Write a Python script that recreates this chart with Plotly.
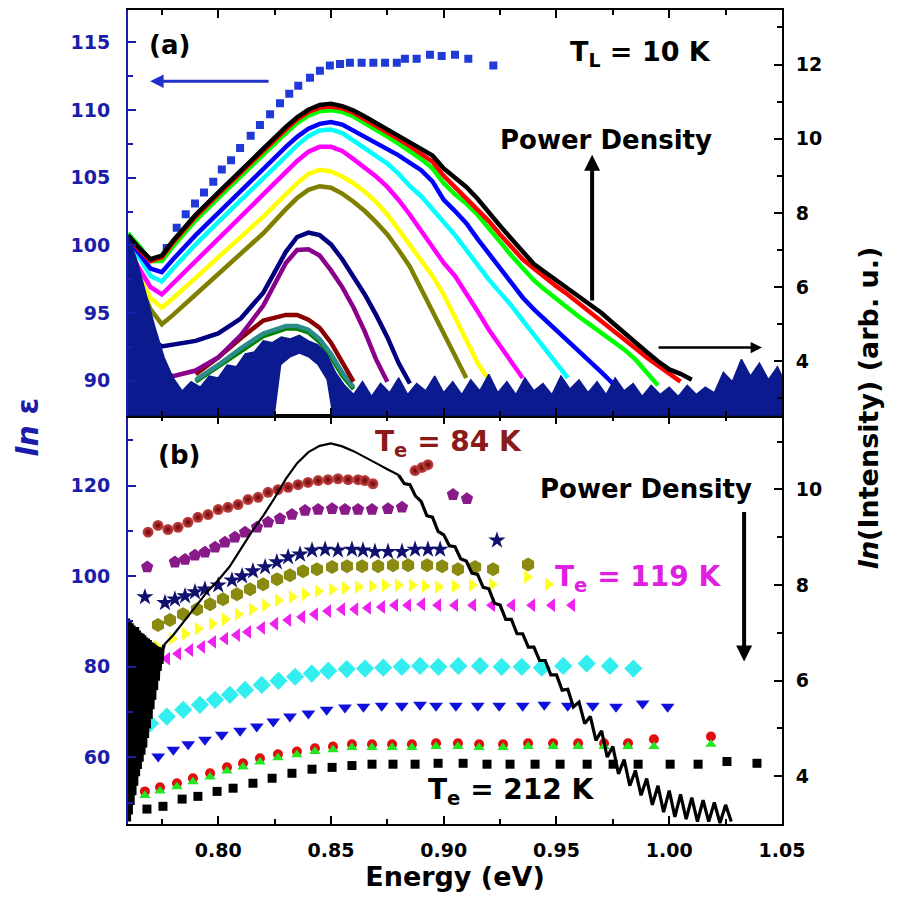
import plotly.graph_objects as go

# ---------------- top panel (a): PL spectra, right axis ln(Intensity) ----------------
PL_E = [0.760, 0.765, 0.770, 0.775, 0.780, 0.790, 0.800, 0.810, 0.820, 0.830, 0.835, 0.840,
        0.845, 0.850, 0.855, 0.860, 0.865, 0.870, 0.875, 0.880, 0.885, 0.890, 0.895, 0.900,
        0.905, 0.910, 0.915, 0.920, 0.925, 0.930, 0.935, 0.940, 0.945, 0.950, 0.955, 0.960,
        0.965, 0.970, 0.975, 0.980, 0.985, 0.990, 0.995, 1.000, 1.005, 1.010]
N = None
PL_BLACK = [7.40, 7.05, 6.75, 6.85, 7.25, 7.95, 8.55, 9.15, 9.72, 10.32, 10.58, 10.78, 10.91, 10.94,
            10.88, 10.76, 10.60, 10.43, 10.25, 10.07, 9.90, 9.72, 9.55, 9.20, 8.95, 8.70, 8.38, 8.00,
            7.65, 7.30, 6.95, 6.62, 6.40, 6.18, 5.94, 5.72, 5.52, 5.30, 5.03, 4.76, 4.49, 4.25, 4.00,
            3.78, 3.66, 3.50]
PL_RED = [7.35, 7.00, 6.70, 6.80, 7.20, 7.90, 8.50, 9.10, 9.67, 10.25, 10.52, 10.72, 10.84, 10.87,
          10.82, 10.70, 10.53, 10.35, 10.17, 9.99, 9.80, 9.60, 9.38, 9.00, 8.70, 8.42, 8.10, 7.78,
          7.42, 7.07, 6.75, 6.50, 6.25, 6.02, 5.80, 5.56, 5.33, 5.10, 4.85, 4.60, 4.35, 4.10, 3.88,
          3.65, 3.45, N]
PL_GREEN = [7.45, 7.10, 6.70, 6.70, 7.10, 7.80, 8.40, 9.00, 9.57, 10.15, 10.42, 10.62, 10.74, 10.77,
            10.72, 10.60, 10.43, 10.25, 10.06, 9.87, 9.67, 9.45, 9.20, 8.80, 8.50, 8.25, 7.95, 7.60,
            7.22, 6.85, 6.50, 6.18, 5.92, 5.67, 5.44, 5.20, 4.98, 4.76, 4.55, 4.32, 4.05, 3.70, 3.35,
            N, N, N]
PL_BLUE = [7.30, 6.90, 6.50, 6.40, 6.75, 7.40, 8.00, 8.60, 9.20, 9.78, 10.05, 10.27, 10.40, 10.45,
           10.38, 10.22, 10.05, 9.88, 9.72, 9.55, 9.35, 9.15, 8.85, 8.35, 8.05, 7.72, 7.30, 6.90,
           6.52, 6.10, 5.72, 5.40, 5.12, 4.85, 4.58, 4.30, 4.02, 3.70, 3.40, N, N, N, N, N, N, N]
PL_CYAN = [7.20, 6.80, 6.30, 6.15, 6.50, 7.15, 7.75, 8.35, 8.95, 9.55, 9.82, 10.07, 10.22, 10.25,
           10.15, 9.95, 9.75, 9.55, 9.33, 9.05, 8.72, 8.45, 8.10, 7.75, 7.40, 7.00, 6.60, 6.20,
           5.85, 5.50, 5.10, 4.72, 4.35, 3.95, 3.55, N, N, N, N, N, N, N, N, N, N, N]
PL_MAGENTA = [7.00, 6.50, 6.00, 5.80, 6.10, 6.70, 7.30, 7.90, 8.50, 9.10, 9.40, 9.65, 9.78, 9.78,
              9.67, 9.45, 9.22, 8.98, 8.70, 8.35, 7.95, 7.50, 7.05, 6.65, 6.30, 5.85, 5.35, 4.85,
              4.40, 3.95, 3.55, N, N, N, N, N, N, N, N, N, N, N, N, N, N, N]
PL_YELLOW = [6.90, 6.30, 5.70, 5.45, 5.70, 6.25, 6.80, 7.35, 7.90, 8.50, 8.80, 9.05, 9.16, 9.12,
             8.98, 8.80, 8.57, 8.30, 7.95, 7.55, 7.15, 6.75, 6.30, 5.80, 5.20, 4.55, 3.95, 3.50,
             N, N, N, N, N, N, N, N, N, N, N, N, N, N, N, N, N, N]
PL_OLIVE = [6.80, 6.10, 5.40, 5.00, 5.25, 5.80, 6.35, 6.90, 7.45, 8.10, 8.40, 8.62, 8.72, 8.68,
            8.52, 8.30, 8.05, 7.75, 7.42, 7.00, 6.55, 5.95, 5.35, 4.70, 4.10, 3.55,
            N, N, N, N, N, N, N, N, N, N, N, N, N, N, N, N, N, N, N, N]
PL_NAVY = [6.50, 5.50, 4.60, 4.40, 4.45, 4.55, 4.75, 5.15, 5.85, 6.95, 7.35, 7.47, 7.40, 7.15,
           6.75, 6.30, 5.80, 5.25, 4.65, 3.95, 3.40,
           N, N, N, N, N, N, N, N, N, N, N, N, N, N, N, N, N, N, N, N, N, N, N, N, N]
PL_PURPLE = [6.20, 5.00, 4.00, 3.70, 3.60, 3.75, 4.10, 4.70, 5.50, 6.65, 7.00, 7.02, 6.85, 6.45,
             6.00, 5.45, 4.80, 4.05, 3.45,
             N, N, N, N, N, N, N, N, N, N, N, N, N, N, N, N, N, N, N, N, N, N, N, N, N, N, N, N]
PL_WINE = [N, N, N, N, N, 3.65, 4.10, 4.62, 5.10, 5.25, 5.25, 5.12, 4.90, 4.50, 3.95, 3.45,
           N, N, N, N, N, N, N, N, N, N, N, N, N, N, N, N, N, N, N, N, N, N, N, N, N, N, N, N, N, N]
PL_TEAL = [N, N, N, N, N, 3.50, 3.90, 4.35, 4.75, 4.95, 4.95, 4.85, 4.60, 4.20, 3.70, 3.30,
           N, N, N, N, N, N, N, N, N, N, N, N, N, N, N, N, N, N, N, N, N, N, N, N, N, N, N, N, N, N]
PL_DGREEN = [N, N, N, N, N, 3.45, 3.85, 4.28, 4.68, 4.88, 4.88, 4.78, 4.52, 4.12, 3.62, 3.25,
             N, N, N, N, N, N, N, N, N, N, N, N, N, N, N, N, N, N, N, N, N, N, N, N, N, N, N, N, N, N]

# noise floor of the weakest spectrum (upper and lower edge of the navy band)
FLOOR_E = [0.760, 0.764, 0.768, 0.772, 0.776, 0.780, 0.784, 0.788, 0.792, 0.796,
           0.800, 0.804, 0.808, 0.812, 0.816, 0.820, 0.824, 0.828, 0.832, 0.836,
           0.840, 0.844, 0.848, 0.852, 0.856, 0.860, 0.864, 0.868, 0.872, 0.876,
           0.880, 0.884, 0.888, 0.892, 0.896, 0.900, 0.904, 0.908, 0.912, 0.916,
           0.920, 0.924, 0.928, 0.932, 0.936, 0.940, 0.944, 0.948, 0.952, 0.956,
           0.960, 0.964, 0.968, 0.972, 0.976, 0.980, 0.984, 0.988, 0.992, 0.996,
           1.000, 1.004, 1.008, 1.012, 1.016, 1.020, 1.024, 1.028, 1.032, 1.036,
           1.040, 1.044, 1.048, 1.050]
FLOOR_HI = [7.40, 6.70, 5.80, 4.90, 4.10, 3.55, 3.20, 3.45, 3.30, 3.60,
            3.55, 3.90, 3.85, 4.20, 4.25, 4.55, 4.50, 4.65, 4.60, 4.70,
            4.55, 4.45, 4.20, 3.70, 3.35, 3.10, 3.45, 3.05, 3.40, 3.15,
            3.55, 3.10, 3.40, 3.20, 3.60, 3.15, 3.45, 3.10, 3.50, 3.20,
            3.65, 3.15, 3.45, 3.10, 3.55, 3.20, 3.40, 3.10, 3.60, 3.25,
            3.50, 3.15, 3.45, 3.10, 3.55, 3.20, 3.40, 3.05, 3.35, 3.10,
            3.30, 3.05, 3.35, 3.10, 3.30, 3.15, 3.70, 3.45, 4.05, 3.60,
            3.95, 3.50, 3.85, 3.60]
FLOOR_LO = [2.0, 2.0, 2.0, 2.0, 2.0, 2.0, 2.0, 2.0, 2.0, 2.0,
            2.0, 2.0, 2.0, 2.0, 2.0, 2.0, 2.0, 3.90, 4.10, 4.20,
            4.10, 3.90, 3.50, 2.0, 2.0, 2.0, 2.0, 2.0, 2.0, 2.0,
            2.0, 2.0, 2.0, 2.0, 2.0, 2.0, 2.0, 2.0, 2.0, 2.0,
            2.0, 2.0, 2.0, 2.0, 2.0, 2.0, 2.0, 2.0, 2.0, 2.0,
            2.0, 2.0, 2.0, 2.0, 2.0, 2.0, 2.0, 2.0, 2.0, 2.0,
            2.0, 2.0, 2.0, 2.0, 2.0, 2.0, 2.0, 2.0, 2.0, 2.0,
            2.0, 2.0, 2.0, 2.0]

# ln(epsilon) at T_L = 10 K (blue squares, left axis)
EPS_E = [0.7772, 0.7816, 0.7856, 0.7897, 0.7937, 0.7978, 0.8016, 0.8057, 0.8097, 0.8144, 0.8185,
         0.8230, 0.8274, 0.8315, 0.8355, 0.8407, 0.8451, 0.8495, 0.8540, 0.8584, 0.8636, 0.8688,
         0.8740, 0.8792, 0.8828, 0.8880, 0.8939, 0.8991, 0.9050, 0.9109, 0.9220]
EPS_V = [99.8, 101.3, 102.3, 103.1, 103.9, 104.7, 105.6, 106.3, 107.2, 108.1, 108.9,
         109.7, 110.5, 111.2, 111.8, 112.4, 112.9, 113.3, 113.4, 113.5, 113.5, 113.5,
         113.5, 113.5, 113.8, 113.8, 114.1, 114.0, 114.1, 113.8, 113.3]

# ---------------- bottom panel (b): ln(epsilon) series, left axis ----------------
WINE_E = [0.7689, 0.7733, 0.7777, 0.7822, 0.7866, 0.7910, 0.7955, 0.8000, 0.8043, 0.8088, 0.8132,
          0.8177, 0.8221, 0.8265, 0.8310, 0.8354, 0.8398, 0.8443, 0.8487, 0.8531, 0.8576, 0.8620,
          0.8650, 0.8686, 0.8873, 0.8904, 0.8930]
WINE_V = [109.7, 111.2, 110.3, 110.8, 111.9, 113.0, 113.6, 114.7, 115.2, 115.8, 116.9,
          117.4, 118.5, 119.1, 119.6, 120.2, 120.7, 121.1, 121.3, 121.5, 121.3, 121.3,
          121.1, 120.4, 123.3, 124.0, 124.6]
PURPLE_E = [0.7685, 0.7808, 0.7853, 0.7897, 0.7941, 0.7986, 0.8030, 0.8074, 0.8119, 0.8172, 0.8221,
            0.8274, 0.8327, 0.8385, 0.8443, 0.8505, 0.8562, 0.8620, 0.8682, 0.8753, 0.8815, 0.9041,
            0.9103]
PURPLE_V = [102.0, 103.1, 103.7, 104.6, 105.3, 106.4, 107.5, 108.6, 109.7, 110.8, 111.9,
            112.7, 113.6, 114.5, 114.7, 114.9, 114.7, 114.7, 114.7, 114.9, 115.2, 118.0,
            117.1]
STAR_E = [0.7675, 0.7764, 0.7808, 0.7853, 0.7897, 0.7941, 0.8000, 0.8061, 0.8106, 0.8154, 0.8208,
          0.8260, 0.8310, 0.8363, 0.8416, 0.8474, 0.8531, 0.8593, 0.8642, 0.8695, 0.8753, 0.8815,
          0.8873, 0.8930, 0.8984, 0.9236]
STAR_V = [95.4, 94.1, 94.9, 95.6, 96.5, 97.1, 98.0, 99.1, 100.0, 101.1, 102.0,
          103.1, 104.2, 104.8, 105.7, 105.9, 105.7, 105.9, 105.7, 105.4, 105.4, 105.4,
          105.9, 105.9, 105.9, 107.9]
OLIVE_E = [0.7733, 0.7786, 0.7844, 0.7906, 0.7964, 0.8021, 0.8083, 0.8141, 0.8199, 0.8261, 0.8318,
           0.8376, 0.8438, 0.8505, 0.8571, 0.8638, 0.8709, 0.8775, 0.8842, 0.8926, 0.8993, 0.9063,
           0.9139, 0.9219, 0.9374]
OLIVE_V = [89.2, 90.3, 91.6, 92.7, 93.8, 94.9, 96.0, 97.1, 98.2, 99.3, 100.2,
           101.1, 101.5, 102.0, 102.2, 102.2, 102.2, 102.4, 102.4, 102.4, 102.2, 101.5,
           102.0, 101.5, 102.6]
YELLOW_E = [0.7729, 0.7795, 0.7853, 0.7910, 0.7973, 0.8030, 0.8088, 0.8150, 0.8208, 0.8265, 0.8327,
            0.8385, 0.8443, 0.8505, 0.8562, 0.8620, 0.8682, 0.8740, 0.8797, 0.8859, 0.8917, 0.8975,
            0.9050, 0.9126, 0.9214, 0.9370, 0.9463]
YELLOW_V = [84.4, 86.2, 87.3, 88.4, 89.5, 90.5, 91.6, 92.7, 93.6, 94.7, 95.4,
            96.0, 96.7, 97.1, 97.4, 97.6, 97.8, 98.0, 98.0, 98.0, 97.8, 97.6,
            97.8, 98.0, 98.2, 99.8, 98.2]
MAGENTA_E = [0.7773, 0.7822, 0.7875, 0.7928, 0.7977, 0.8030, 0.8083, 0.8132, 0.8194, 0.8252,
             0.8310, 0.8372, 0.8429, 0.8487, 0.8549, 0.8607, 0.8664, 0.8726, 0.8784, 0.8842,
             0.8904, 0.8975, 0.9050, 0.9130, 0.9214, 0.9303, 0.9392, 0.9480, 0.9569]
MAGENTA_V = [81.8, 82.9, 83.7, 84.4, 85.5, 86.2, 87.0, 87.7, 88.6, 89.5,
             90.3, 91.0, 91.6, 92.3, 92.7, 92.7, 93.0, 93.2, 93.6, 93.6,
             93.8, 93.6, 93.6, 93.6, 93.6, 93.6, 93.6, 93.6, 93.6]
CYAN_E = [0.7698, 0.7772, 0.7845, 0.7919, 0.7986, 0.8052, 0.8119, 0.8193, 0.8267, 0.8341, 0.8415,
          0.8488, 0.8570, 0.8651, 0.8732, 0.8814, 0.8895, 0.8976, 0.9065, 0.9161, 0.9257, 0.9346,
          0.9435, 0.9530, 0.9634, 0.9737, 0.9841]
CYAN_V = [67.5, 69.0, 70.5, 71.6, 72.7, 73.8, 74.9, 76.0, 76.9, 77.8, 78.5,
          79.1, 79.5, 79.6, 79.8, 80.0, 80.2, 80.0, 80.2, 80.2, 80.0, 80.0,
          79.8, 80.2, 80.7, 80.2, 79.6]
BLUE_E = [0.7638, 0.7734, 0.7801, 0.7867, 0.7941, 0.8016, 0.8097, 0.8171, 0.8244, 0.8318, 0.8400,
          0.8481, 0.8562, 0.8644, 0.8725, 0.8814, 0.8895, 0.8966, 0.9054, 0.9151, 0.9246, 0.9350,
          0.9446, 0.9550, 0.9661, 0.9764, 0.9882, 0.9993]
BLUE_V = [59.1, 60.2, 61.7, 62.9, 63.9, 65.0, 65.9, 66.8, 67.9, 69.0, 69.7,
          70.5, 71.0, 71.2, 71.4, 71.4, 71.6, 71.4, 71.4, 71.4, 71.4, 71.4,
          71.6, 71.4, 71.4, 71.2, 71.9, 71.2]
RED_E = [0.7675, 0.7742, 0.7817, 0.7888, 0.7964, 0.8039, 0.8110, 0.8185, 0.8265, 0.8349, 0.8429,
         0.8509, 0.8593, 0.8682, 0.8771, 0.8859, 0.8966, 0.9063, 0.9157, 0.9263, 0.9374, 0.9485,
         0.9596, 0.9711, 0.9817, 0.9932, 1.0185]
RED_V = [52.5, 53.4, 54.3, 55.4, 56.5, 57.8, 58.7, 59.8, 60.7, 61.3, 62.0,
         62.4, 62.9, 62.9, 62.9, 62.9, 63.1, 63.1, 62.9, 62.9, 63.1, 63.1,
         63.1, 63.1, 63.1, 64.0, 64.6]
GREEN_V = [51.6, 52.6, 53.5, 54.6, 55.7, 57.0, 57.9, 59.0, 59.9, 60.6, 61.3,
           61.7, 62.2, 62.2, 62.2, 62.2, 62.4, 62.4, 62.2, 62.2, 62.4, 62.4,
           62.4, 62.4, 62.4, 62.4, 62.9]
SQ_E = [0.7684, 0.7755, 0.7840, 0.7910, 0.7995, 0.8066, 0.8154, 0.8239, 0.8327, 0.8416, 0.8505,
        0.8593, 0.8682, 0.8775, 0.8873, 0.8975, 0.9086, 0.9192, 0.9294, 0.9405, 0.9516, 0.9636,
        0.9751, 0.9862, 1.0004, 1.0128, 1.0256, 1.0389]
SQ_V = [48.6, 49.2, 50.8, 51.4, 52.5, 53.2, 54.3, 55.4, 56.5, 57.4, 57.8,
        58.2, 58.5, 58.5, 58.5, 58.7, 58.7, 58.5, 58.5, 58.5, 58.5, 58.5,
        58.5, 58.5, 58.5, 58.5, 59.1, 58.7]

# highest-power PL spectrum shown in panel (b) (right axis)
SPEC_EDGE_E = [0.7602, 0.7606, 0.7610, 0.7614, 0.7618, 0.7622, 0.7626, 0.7630, 0.7634, 0.7638,
               0.7642, 0.7646, 0.7650, 0.7654, 0.7658, 0.7662, 0.7666, 0.7670, 0.7674, 0.7678,
               0.7682, 0.7686, 0.7690, 0.7694, 0.7698, 0.7702, 0.7706, 0.7710, 0.7714, 0.7718,
               0.7722, 0.7726, 0.7730, 0.7734, 0.7738, 0.7742, 0.7746, 0.7750, 0.7754, 0.7760]
SPEC_EDGE_R = [7.30, 3.05, 7.25, 3.20, 7.20, 3.40, 7.15, 3.60, 7.10, 3.80,
               7.12, 4.00, 7.05, 4.15, 7.00, 4.30, 6.98, 4.45, 6.95, 4.60,
               6.90, 4.80, 6.88, 5.00, 6.85, 5.20, 6.80, 5.40, 6.78, 5.60,
               6.75, 5.80, 6.72, 6.00, 6.70, 6.20, 6.68, 6.35, 6.65, 6.75]
SPEC_MID_E = [0.7760, 0.780, 0.785, 0.790, 0.795, 0.800, 0.805, 0.810, 0.815, 0.820, 0.825,
              0.830, 0.835, 0.840, 0.845, 0.850, 0.855, 0.860, 0.865, 0.870, 0.875, 0.8800]
SPEC_MID_R = [6.75, 6.95, 7.25, 7.55, 7.85, 8.10, 8.38, 8.75, 9.12, 9.45, 9.82,
              10.22, 10.55, 10.78, 10.91, 10.96, 10.90, 10.80, 10.68, 10.55, 10.42, 10.30]
SPEC_TAIL_E = [0.8800, 0.8825, 0.8850, 0.8875, 0.8900, 0.8925, 0.8950, 0.8975, 0.9000, 0.9025,
               0.9050, 0.9075, 0.9100, 0.9125, 0.9150, 0.9175, 0.9200, 0.9225, 0.9250, 0.9275,
               0.9300, 0.9325, 0.9350, 0.9375, 0.9400, 0.9425, 0.9450, 0.9475, 0.9500, 0.9525,
               0.9550, 0.9575, 0.9600, 0.9625, 0.9650, 0.9675, 0.9700, 0.9725, 0.9750, 0.9775,
               0.9800, 0.9825, 0.9850, 0.9875, 0.9900, 0.9925, 0.9950, 0.9975, 1.0000, 1.0025,
               1.0050, 1.0075, 1.0100, 1.0125, 1.0150, 1.0175, 1.0200, 1.0225, 1.0250, 1.0275]
SPEC_TAIL_R = [10.30, 10.12, 10.10, 9.86, 9.75, 9.45, 9.42, 9.12, 9.05, 8.82,
               8.80, 8.55, 8.50, 8.25, 8.22, 7.95, 7.92, 7.62, 7.58, 7.28,
               7.28, 6.98, 6.98, 6.70, 6.70, 6.42, 6.42, 6.12, 6.12, 5.80,
               5.82, 5.45, 5.55, 5.10, 5.25, 4.75, 4.95, 4.40, 4.62, 4.05,
               4.35, 3.80, 4.12, 3.60, 3.95, 3.40, 3.80, 3.25, 3.70, 3.15,
               3.62, 3.10, 3.55, 3.05, 3.50, 3.05, 3.45, 3.02, 3.40, 3.05]

X_TICKS = [0.80, 0.85, 0.90, 0.95, 1.00, 1.05]
X_TICKTEXT = ["0.80", "0.85", "0.90", "0.95", "1.00", "1.05"]
X_MINOR = [0.775, 0.825, 0.875, 0.925, 0.975, 1.025]

# ---------------- figure ----------------
FONT = "DejaVu Sans"
AXBLUE = "#1c1caa"
fig = go.Figure()

spectra = [
    (PL_DGREEN, "#008000"), (PL_TEAL, "#2e8b8b"), (PL_WINE, "#8b0000"), (PL_PURPLE, "#8b008b"),
    (PL_NAVY, "#000080"), (PL_OLIVE, "#808000"), (PL_YELLOW, "#ffff00"), (PL_MAGENTA, "#ff00ff"),
    (PL_CYAN, "#00ffff"), (PL_BLUE, "#0000ff"), (PL_GREEN, "#00ff00"), (PL_RED, "#ff0000"),
    (PL_BLACK, "#000000"),
]
for vals, col in spectra:
    fig.add_trace(go.Scatter(x=PL_E, y=vals, mode="lines", xaxis="x2", yaxis="y4",
                             line=dict(color=col, width=4.5), connectgaps=False, hoverinfo="skip"))

fig.add_trace(go.Scatter(x=FLOOR_E, y=FLOOR_LO, mode="lines", xaxis="x2", yaxis="y4",
                         line=dict(color="rgba(0,0,0,0)", width=0), hoverinfo="skip"))
fig.add_trace(go.Scatter(x=FLOOR_E, y=FLOOR_HI, mode="lines", xaxis="x2", yaxis="y4",
                         fill="tonexty", fillcolor="#0b1a8f",
                         line=dict(color="#0b1a8f", width=1.5), hoverinfo="skip"))

fig.add_trace(go.Scatter(x=EPS_E, y=EPS_V, mode="markers", xaxis="x2", yaxis="y2",
                         marker=dict(symbol="square", size=8, color="#1f3ad6")))

# bottom panel markers
def mk(x, y, symbol, size, color, **extra):
    fig.add_trace(go.Scatter(x=x, y=y, mode="markers", xaxis="x", yaxis="y",
                             marker=dict(symbol=symbol, size=size, color=color, line=dict(width=0), **extra)))

mk(SQ_E, SQ_V, "square", 9, "#000000")
mk(RED_E, RED_V, "circle", 10, "#e01010")
mk(RED_E, GREEN_V, "triangle-up", 10, "#22e622")
mk(BLUE_E, BLUE_V, "triangle-down", 12, "#1010dd")
mk(CYAN_E, CYAN_V, "diamond", 14, "#33eeee")
mk(MAGENTA_E, MAGENTA_V, "triangle-left", 12, "#ee22ee")
mk(YELLOW_E, YELLOW_V, "triangle-right", 12, "#ffff22")
mk(OLIVE_E, OLIVE_V, "hexagon", 14, "#8a8a10")
mk(STAR_E, STAR_V, "star", 13, "#10106e")
mk(PURPLE_E, PURPLE_V, "pentagon", 13, "#8a1a8a")
mk(WINE_E, WINE_V, "circle", 11, "#c84a4a", gradient=dict(type="radial", color="#6e0000"))

fig.add_trace(go.Scatter(x=SPEC_EDGE_E, y=SPEC_EDGE_R, mode="lines", xaxis="x", yaxis="y3",
                         line=dict(color="black", width=3.5), hoverinfo="skip"))
fig.add_trace(go.Scatter(x=SPEC_MID_E, y=SPEC_MID_R, mode="lines", xaxis="x", yaxis="y3",
                         line=dict(color="black", width=2.2), hoverinfo="skip"))
fig.add_trace(go.Scatter(x=SPEC_TAIL_E, y=SPEC_TAIL_R, mode="lines", xaxis="x", yaxis="y3",
                         line=dict(color="black", width=3.2), hoverinfo="skip"))

# ---------------- axes ----------------
tickfont = dict(family=FONT, size=19, color="black", weight="bold")
xcommon = dict(range=[0.76, 1.05], showline=True, linecolor="black", linewidth=2, mirror="ticks",
               ticks="inside", ticklen=8, tickwidth=2, tickcolor="black",
               tickvals=X_TICKS, ticktext=X_TICKTEXT, showgrid=False, zeroline=False,
               minor=dict(ticks="inside", ticklen=5, tickwidth=2, tickcolor="black", tickvals=X_MINOR))

fig.update_layout(
    width=892, height=893,
    margin=dict(l=120, r=118, t=0, b=77),
    plot_bgcolor="white", paper_bgcolor="white",
    showlegend=False,
    xaxis=dict(**xcommon, anchor="y", domain=[0, 1], tickfont=tickfont, ticklabelstandoff=8,
               title=dict(text="Energy (eV)", standoff=6,
                          font=dict(family=FONT, size=27, color="black", weight="bold"))),
    xaxis2=dict(**xcommon, anchor="y2", matches="x", showticklabels=False),
    yaxis=dict(domain=[0, 0.5015], anchor="x", range=[45.3, 135.4], showline=True, linecolor=AXBLUE,
               linewidth=2, ticks="inside", ticklen=8, tickwidth=2, tickcolor=AXBLUE,
               tickvals=[60, 80, 100, 120], showgrid=False, zeroline=False,
               tickfont=dict(family=FONT, size=19, color=AXBLUE, weight="bold"), ticklabelstandoff=12,
               minor=dict(ticks="inside", ticklen=5, tickwidth=2, tickcolor=AXBLUE,
                          tickvals=[50, 70, 90, 110, 130])),
    yaxis3=dict(overlaying="y", side="right", anchor="x", range=[3.0, 11.54], showline=True,
                linecolor="black", linewidth=2, ticks="inside", ticklen=8, tickwidth=2,
                tickcolor="black", tickvals=[4, 6, 8, 10], showgrid=False, zeroline=False,
                tickfont=tickfont, ticklabelstandoff=8,
                minor=dict(ticks="inside", ticklen=5, tickwidth=2, tickcolor="black",
                           tickvals=[5, 7, 9, 11])),
    yaxis2=dict(domain=[0.5015, 1], anchor="x2", range=[87.4, 117.4], showline=True, linecolor=AXBLUE,
                linewidth=2, ticks="inside", ticklen=8, tickwidth=2, tickcolor=AXBLUE,
                tickvals=[90, 95, 100, 105, 110, 115], showgrid=False, zeroline=False,
                tickfont=dict(family=FONT, size=19, color=AXBLUE, weight="bold"), ticklabelstandoff=12,
                minor=dict(ticks="inside", ticklen=5, tickwidth=2, tickcolor=AXBLUE,
                           tickvals=[92.5, 97.5, 102.5, 107.5, 112.5])),
    yaxis4=dict(overlaying="y2", side="right", anchor="x2", range=[2.53, 13.47], showline=True,
                linecolor="black", linewidth=2, ticks="inside", ticklen=8, tickwidth=2,
                tickcolor="black", tickvals=[4, 6, 8, 10, 12], showgrid=False, zeroline=False,
                tickfont=tickfont, ticklabelstandoff=8,
                minor=dict(ticks="inside", ticklen=5, tickwidth=2, tickcolor="black",
                           tickvals=[3, 5, 7, 9, 11, 13])),
)

ann = []


def txt(x, y, text, size, color="black", xanchor="center", angle=0, family=FONT, weight="bold"):
    ann.append(dict(xref="paper", yref="paper", x=x, y=y, text=text, showarrow=False,
                    xanchor=xanchor, yanchor="middle", textangle=angle,
                    font=dict(family=family, size=size, color=color, weight=weight)))


def arrow(xref, yref, x, y, ax, ay, color, width, size=1.0):
    ann.append(dict(xref=xref, yref=yref, axref=xref, ayref=yref, x=x, y=y, ax=ax, ay=ay,
                    text="", showarrow=True, arrowhead=2, arrowsize=size, arrowwidth=width,
                    arrowcolor=color))


txt(-0.153, 0.488, "<i>ln</i> ε", 30, color=AXBLUE, angle=-90)
txt(1.132, 0.511, "<i>ln</i>(Intensity) (arb. u.)", 27, angle=-90)
txt(0.064, 0.957, "(a)", 26)
txt(0.6728, 0.947, "T<sub>L</sub> = 10 K", 27, xanchor="left")
txt(0.7309, 0.8407, "Power Density", 26)
txt(0.078, 0.4534, "(b)", 26)
txt(0.3746, 0.4669, "T<sub>e</sub> = 84 K", 28, color="#8b1a1a", xanchor="left")
txt(0.792, 0.4118, "Power Density", 26)
txt(0.6498, 0.3015, "T<sub>e</sub> = 119 K", 28, color="#e020e0", xanchor="left")
txt(0.4557, 0.0404, "T<sub>e</sub> = 212 K", 28, xanchor="left")

arrow("x2", "y2", 0.7698, 112.13, 0.823, 112.13, "#2030c8", 3, 0.9)
arrow("x2", "y4", 0.9658, 9.57, 0.9658, 5.6, "black", 4, 0.8)
arrow("x2", "y4", 1.0411, 4.37, 0.9946, 4.37, "black", 2.5, 0.9)
arrow("x", "y3", 1.0332, 6.4, 1.0332, 9.56, "black", 4, 0.8)

fig.update_layout(annotations=ann)
fig.write_html("out.html")
